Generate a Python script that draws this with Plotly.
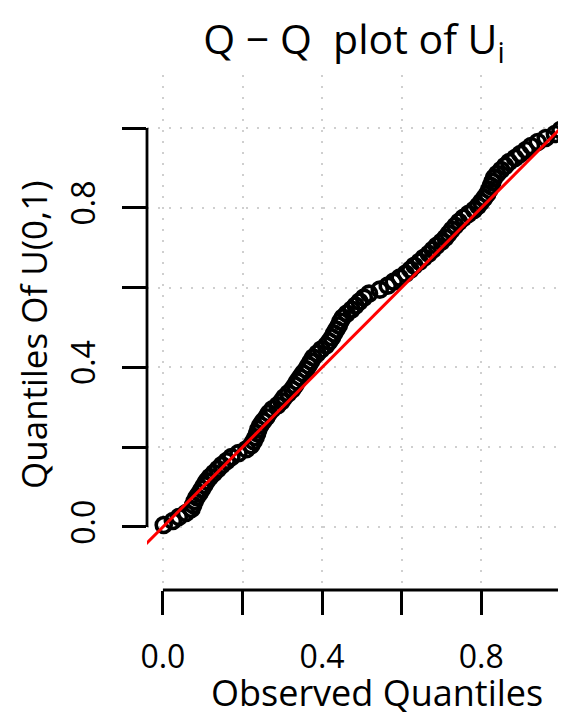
import plotly.graph_objects as go

# ---- data ----
observed = [0.002, 0.025, 0.040, 0.058, 0.072, 0.076, 0.080, 0.085, 0.092, 0.098,
            0.104, 0.110, 0.118, 0.128, 0.138, 0.148, 0.160, 0.172, 0.190, 0.210,
            0.222, 0.228, 0.233, 0.237, 0.240, 0.245, 0.252, 0.260, 0.266, 0.275,
            0.288, 0.298, 0.305, 0.315, 0.325, 0.332, 0.338, 0.345, 0.352, 0.360,
            0.366, 0.372, 0.378, 0.388, 0.398, 0.410, 0.418, 0.425, 0.430, 0.436,
            0.442, 0.446, 0.452, 0.462, 0.474, 0.484, 0.494, 0.505, 0.518, 0.545,
            0.565, 0.580, 0.595, 0.610, 0.622, 0.632, 0.645, 0.656, 0.668, 0.678,
            0.688, 0.700, 0.710, 0.718, 0.726, 0.735, 0.744, 0.755, 0.768, 0.782,
            0.792, 0.800, 0.808, 0.815, 0.820, 0.824, 0.828, 0.832, 0.840, 0.850,
            0.860, 0.870, 0.885, 0.898, 0.912, 0.925, 0.942, 0.962, 0.985, 0.999]

theoretical = [0.005, 0.015, 0.025, 0.035, 0.045, 0.055, 0.065, 0.075, 0.085, 0.095,
               0.105, 0.115, 0.125, 0.135, 0.145, 0.155, 0.165, 0.175, 0.185, 0.195,
               0.205, 0.215, 0.225, 0.235, 0.245, 0.255, 0.265, 0.275, 0.285, 0.295,
               0.305, 0.315, 0.325, 0.335, 0.345, 0.355, 0.365, 0.375, 0.385, 0.395,
               0.405, 0.415, 0.425, 0.435, 0.445, 0.455, 0.465, 0.475, 0.485, 0.495,
               0.505, 0.515, 0.525, 0.535, 0.545, 0.555, 0.565, 0.575, 0.585, 0.595,
               0.605, 0.615, 0.625, 0.635, 0.645, 0.655, 0.665, 0.675, 0.685, 0.695,
               0.705, 0.715, 0.725, 0.735, 0.745, 0.755, 0.765, 0.775, 0.785, 0.795,
               0.805, 0.815, 0.825, 0.835, 0.845, 0.855, 0.865, 0.875, 0.885, 0.895,
               0.905, 0.915, 0.925, 0.935, 0.945, 0.955, 0.965, 0.975, 0.985, 0.995]

tick_values = [0.0, 0.2, 0.4, 0.6, 0.8, 1.0]
x_tick_labels = ["0.0", "", "0.4", "", "0.8", ""]
y_tick_labels = ["0.0", "", "0.4", "", "0.8", ""]

ref_intercept = 0.0
ref_slope = 1.0

title_text = "Q \u2212 Q  plot of U<sub>i</sub>"
x_title = "Observed Quantiles"
y_title = "Quantiles Of U(0,1)"

# ---- layout constants (page body has an 8px margin) ----
OFF = 8
W, H = 566 - OFF, 713 - OFF
PL, PR, PT, PB = 147 - OFF, 566 - OFF, 75 - OFF, 590 - OFF   # plot area in figure px
X_RANGE = [-0.04, 1.013]
Y_RANGE = [-0.158, 1.133]
FONT = "Open Sans"
INK = "black"

fig = go.Figure()

fig.add_trace(go.Scatter(
    x=observed, y=theoretical, mode="markers",
    marker=dict(symbol="circle-open", size=15, color=INK,
                line=dict(width=3.6, color=INK)),
    hoverinfo="skip", showlegend=False))

lx = [X_RANGE[0] - 0.1, X_RANGE[1] + 0.1]
ly = [ref_intercept + ref_slope * v for v in lx]
fig.add_trace(go.Scatter(
    x=lx, y=ly, mode="lines", line=dict(color="red", width=3),
    hoverinfo="skip", showlegend=False))

axis_common = dict(
    tickmode="array", tickvals=tick_values,
    ticks="outside", ticklen=24, tickwidth=2.8, tickcolor=INK,
    showline=False, zeroline=False,
    showgrid=True, gridcolor="#cfcfcf", griddash="2px,9px", gridwidth=2,
    tickfont=dict(family=FONT, size=32, color=INK),
    fixedrange=True,
)

fig.update_xaxes(range=X_RANGE, ticktext=x_tick_labels, ticklabelstandoff=15, **axis_common)
fig.update_yaxes(range=Y_RANGE, ticktext=y_tick_labels, tickangle=-90,
                 ticklabelstandoff=14, **axis_common)

# R-style axis lines spanning the tick range only
fig.add_shape(type="line", xref="x", yref="paper",
              x0=tick_values[0], x1=tick_values[-1], y0=0, y1=0,
              line=dict(color=INK, width=2.8))
fig.add_shape(type="line", xref="paper", yref="y",
              x0=0, x1=0, y0=tick_values[0], y1=tick_values[-1],
              line=dict(color=INK, width=2.8))

pw, ph = PR - PL, PB - PT
fig.add_annotation(text=x_title, xref="paper", yref="paper",
                   x=(377 - OFF - PL) / pw, y=-(692 - OFF - PB) / ph,
                   xanchor="center", yanchor="middle", showarrow=False,
                   font=dict(family=FONT, size=36, color=INK))
fig.add_annotation(text=y_title, xref="paper", yref="paper",
                   x=-(PL - (33 - OFF)) / pw, y=(PB - (335 - OFF)) / ph,
                   xanchor="center", yanchor="middle", showarrow=False, textangle=-90,
                   font=dict(family=FONT, size=35, color=INK))

fig.update_layout(
    width=W, height=H,
    margin=dict(l=PL, r=W - PR, t=PT, b=H - PB),
    paper_bgcolor="white", plot_bgcolor="white",
    title=dict(text=title_text, x=(354 - OFF) / W, xref="container", xanchor="center",
               y=1 - (40 - OFF) / H, yref="container", yanchor="middle",
               font=dict(family=FONT, size=41, color=INK)),
    showlegend=False,
)

fig.write_html("out.html")
